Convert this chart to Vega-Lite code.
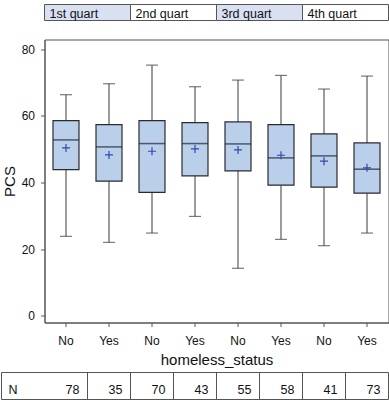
{
  "$schema": "https://vega.github.io/schema/vega-lite/v6.json",
  "padding": {"left": 0.5, "top": 3.5, "right": 0, "bottom": 0},
  "config": {
    "font": "Liberation Sans",
    "view": {"stroke": null},
    "axis": {
      "domainColor": "#555555",
      "tickColor": "#555555",
      "tickSize": 4,
      "labelFontSize": 12,
      "labelColor": "#111111",
      "titleFontSize": 15,
      "titleFontWeight": "normal",
      "titleColor": "#111111",
      "grid": false
    }
  },
  "spacing": 17,
  "vconcat": [
    {
      "width": 344,
      "height": 16,
      "data": {"values": [
        {"quart": "1st quart"}, {"quart": "2nd quart"}, {"quart": "3rd quart"}, {"quart": "4th quart"}
      ]},
      "layer": [
        {
          "mark": {"type": "rect", "stroke": "#555555", "strokeWidth": 1},
          "encoding": {
            "x": {"field": "quart", "type": "nominal", "sort": null, "scale": {"paddingInner": 0, "paddingOuter": 0}, "axis": null},
            "fill": {"field": "quart", "type": "nominal", "scale": {"domain": ["1st quart", "2nd quart", "3rd quart", "4th quart"], "range": ["#d8e0f1", "#ffffff", "#d8e0f1", "#ffffff"]}, "legend": null}
          }
        },
        {
          "mark": {"type": "text", "align": "left", "baseline": "middle", "dx": 5, "dy": 1.5, "fontSize": 12.5, "color": "#111111"},
          "encoding": {
            "x": {"field": "quart", "type": "nominal", "sort": null, "bandPosition": 0, "axis": null},
            "text": {"field": "quart"}
          }
        }
      ]
    },
    {
      "spacing": 3,
      "vconcat": [
        {
          "width": 344,
          "height": 283,
          "view": {"stroke": "#555555"},
          "data": {"values": [
            {"key": "1st quart|No", "lower": 23.8, "q1": 43.9, "median": 52.8, "q3": 58.6, "upper": 66.4, "mean": 50.4},
            {"key": "1st quart|Yes", "lower": 22.0, "q1": 40.4, "median": 50.7, "q3": 57.4, "upper": 69.7, "mean": 48.3},
            {"key": "2nd quart|No", "lower": 24.8, "q1": 37.0, "median": 51.7, "q3": 58.6, "upper": 75.3, "mean": 49.4},
            {"key": "2nd quart|Yes", "lower": 29.8, "q1": 42.0, "median": 51.7, "q3": 58.0, "upper": 68.8, "mean": 50.1},
            {"key": "3rd quart|No", "lower": 14.2, "q1": 43.5, "median": 51.6, "q3": 58.2, "upper": 70.8, "mean": 49.8},
            {"key": "3rd quart|Yes", "lower": 22.9, "q1": 39.2, "median": 47.4, "q3": 57.4, "upper": 72.2, "mean": 48.2},
            {"key": "4th quart|No", "lower": 21.0, "q1": 38.6, "median": 48.0, "q3": 54.6, "upper": 68.1, "mean": 46.4},
            {"key": "4th quart|Yes", "lower": 24.8, "q1": 36.8, "median": 44.0, "q3": 51.9, "upper": 72.0, "mean": 44.4}
          ]},
          "encoding": {
            "x": {
              "field": "key", "type": "nominal", "sort": null,
              "scale": {"paddingInner": 0, "paddingOuter": 0},
              "axis": {"title": "homeless_status", "labelExpr": "split(datum.label, '|')[1]", "labelAngle": 0, "labelPadding": 9, "titlePadding": 6}
            }
          },
          "layer": [
            {
              "mark": {"type": "rule", "color": "#5a5a5a", "strokeWidth": 1.2},
              "encoding": {
                "y": {"field": "lower", "type": "quantitative", "title": "PCS",
                  "scale": {"domain": [-2.1, 83], "nice": false, "zero": false},
                  "axis": {"values": [0, 20, 40, 60, 80], "labelPadding": 6, "titlePadding": 4}},
                "y2": {"field": "upper"}
              }
            },
            {
              "mark": {"type": "tick", "color": "#404040", "size": 12, "thickness": 1.2},
              "encoding": {"y": {"field": "lower", "type": "quantitative", "title": "PCS"}}
            },
            {
              "mark": {"type": "tick", "color": "#404040", "size": 12, "thickness": 1.2},
              "encoding": {"y": {"field": "upper", "type": "quantitative", "title": "PCS"}}
            },
            {
              "mark": {"type": "bar", "size": 26, "fill": "#bacfea", "stroke": "#2a2a33", "strokeWidth": 1.2},
              "encoding": {"y": {"field": "q1", "type": "quantitative", "title": "PCS"}, "y2": {"field": "q3"}}
            },
            {
              "mark": {"type": "tick", "color": "#22223a", "size": 26, "thickness": 1.5},
              "encoding": {"y": {"field": "median", "type": "quantitative", "title": "PCS"}}
            },
            {
              "mark": {"type": "point", "shape": "M-1,0L1,0M0,-1L0,1", "size": 64, "filled": false, "stroke": "#3347b0", "strokeWidth": 1.2, "opacity": 1},
              "encoding": {"y": {"field": "mean", "type": "quantitative", "title": "PCS"}}
            }
          ]
        },
        {
          "width": 344,
          "height": 27,
          "data": {"values": [
            {"key": "1st quart|No", "n": 78},
            {"key": "1st quart|Yes", "n": 35},
            {"key": "2nd quart|No", "n": 70},
            {"key": "2nd quart|Yes", "n": 43},
            {"key": "3rd quart|No", "n": 55},
            {"key": "3rd quart|Yes", "n": 58},
            {"key": "4th quart|No", "n": 41},
            {"key": "4th quart|Yes", "n": 73}
          ]},
          "layer": [
            {
              "data": {"values": [{"label": "N"}]},
              "mark": {"type": "rect", "fill": "#ffffff", "stroke": "#555555", "strokeWidth": 1},
              "encoding": {
                "x": {"datum": "N", "type": "nominal", "bandPosition": 0,
                  "scale": {"domain": ["N", "1st quart|No", "1st quart|Yes", "2nd quart|No", "2nd quart|Yes", "3rd quart|No", "3rd quart|Yes", "4th quart|No", "4th quart|Yes"], "range": [-43, 344], "paddingInner": 0, "paddingOuter": 0},
                  "axis": null},
                "x2": {"datum": "4th quart|Yes", "bandPosition": 1}
              }
            },
            {
              "transform": [{"filter": "datum.key != '1st quart|No'"}],
              "mark": {"type": "rule", "color": "#555555", "strokeWidth": 1},
              "encoding": {
                "x": {"field": "key", "type": "nominal", "bandPosition": 0, "axis": null}
              }
            },
            {
              "mark": {"type": "text", "align": "right", "baseline": "middle", "dx": -8, "dy": 4, "fontSize": 12.5, "color": "#111111"},
              "encoding": {
                "x": {"field": "key", "type": "nominal", "bandPosition": 1, "axis": null},
                "text": {"field": "n"}
              }
            },
            {
              "data": {"values": [{"label": "N"}]},
              "mark": {"type": "text", "align": "left", "baseline": "middle", "dx": 7, "dy": 4, "fontSize": 12.5, "color": "#111111"},
              "encoding": {
                "x": {"datum": "N", "type": "nominal", "bandPosition": 0, "axis": null},
                "text": {"field": "label"}
              }
            }
          ]
        }
      ]
    }
  ]
}
